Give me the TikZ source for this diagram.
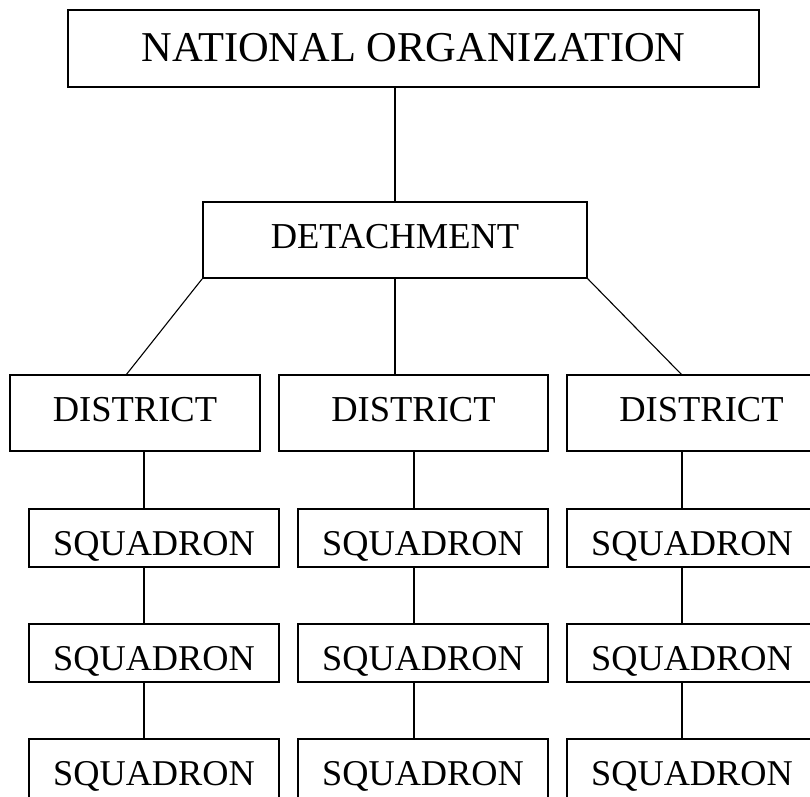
\documentclass[tikz,border=0pt]{standalone}
\usepackage{fontspec}
\setmainfont{Liberation Serif}
\begin{document}
\begin{tikzpicture}[x=1pt,y=-1pt,
  box/.style={draw,line width=1.7pt,rectangle,inner sep=0pt,text depth=0pt},
  topbox/.style={box,minimum width=691pt,minimum height=77pt,text height=25pt,font=\fontsize{42.5}{50}\selectfont},
  midbox/.style={box,minimum height=76pt,text height=16pt,font=\fontsize{36.5}{44}\selectfont},
  sqbox/.style={box,minimum width=250pt,minimum height=58pt,text height=34pt,font=\fontsize{36.3}{44}\selectfont},
  lastbox/.style={sqbox,minimum height=62pt,text height=30pt},
  link/.style={line width=1.1pt}]
\clip (0,0) rectangle (810,796);
\fill[white] (0,0) rectangle (810,796);
% nodes
\node[topbox] (nat) at (413.5,48.5) {NATIONAL ORGANIZATION};
\node[midbox,minimum width=384pt] (det) at (395,240) {DETACHMENT};
\node[midbox,minimum width=250pt] (d1) at (135,413) {DISTRICT};
\node[midbox,minimum width=269pt] (d2) at (413.5,413) {DISTRICT};
\node[midbox,minimum width=269pt] (d3) at (701.5,413) {DISTRICT};
\foreach \c/\x in {1/154,2/423,3/692}{
  \node[sqbox] (s\c1) at (\x,538) {SQUADRON};
  \node[sqbox] (s\c2) at (\x,653) {SQUADRON};
  \node[lastbox] (s\c3) at (\x,770) {SQUADRON};
}
% connector end points
\coordinate (a1) at (126,375);
\coordinate (a3) at (682,375);
% connectors
\draw[link] (det.north) -- (det.north |- nat.south);
\draw[link] (det.south west) -- (a1);
\draw[link] (det.south) -- (det.south |- d2.north);
\draw[link] (det.south east) -- (a3);
\foreach \c/\x in {1/144,2/414,3/682}{
  \draw[link] (\x,0 |- d\c.south) -- (\x,0 |- s\c1.north);
  \draw[link] (\x,0 |- s\c1.south) -- (\x,0 |- s\c2.north);
  \draw[link] (\x,0 |- s\c2.south) -- (\x,0 |- s\c3.north);
}
\end{tikzpicture}
\end{document}
